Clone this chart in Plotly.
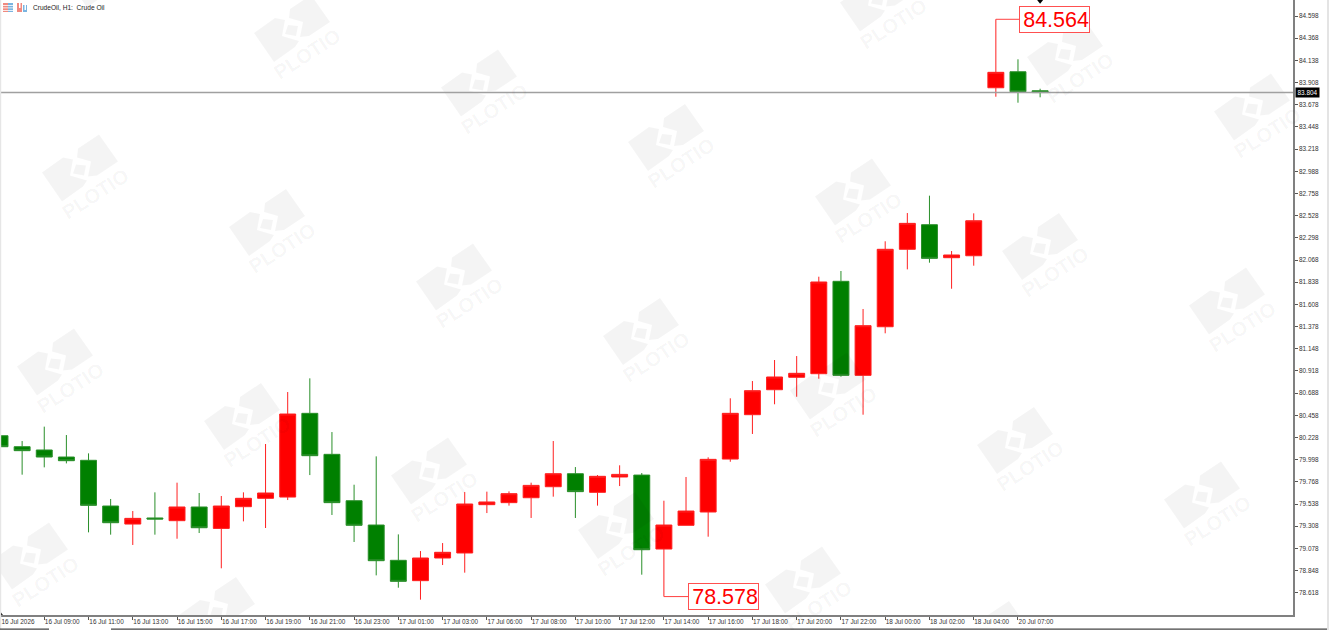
import plotly.graph_objects as go

bars = list(range(48))
opens = [80.246,80.132,80.098,80.025,79.991,79.517,79.330,79.393,79.365,79.507,79.285,79.510,
         79.597,79.610,80.478,80.053,79.572,79.320,78.954,78.743,78.978,79.030,79.531,79.552,
         79.603,79.717,79.852,79.659,79.818,79.838,79.071,79.317,79.455,80.004,80.464,80.723,
         80.852,80.889,81.847,80.872,81.376,82.179,82.434,82.092,82.112,83.854,84.020,83.823]
highs = [80.246,80.191,80.340,80.253,80.063,79.590,79.465,79.659,79.759,79.652,79.621,79.659,
         80.160,80.699,80.841,80.284,79.738,80.032,79.223,79.050,79.133,79.662,79.666,79.669,
         79.759,80.191,79.921,79.838,79.939,79.859,79.572,79.818,80.022,80.634,80.813,81.031,
         81.072,81.895,81.954,81.560,82.262,82.555,82.735,82.161,82.552,84.564,84.149,83.844]
lows = [80.132,79.842,79.918,79.959,79.244,79.220,79.113,79.220,79.178,79.237,78.871,79.358,
        79.289,79.579,79.838,79.424,79.144,78.798,78.670,78.546,78.905,78.826,79.444,79.521,
        79.393,79.614,79.393,79.521,79.724,78.805,78.578,79.317,79.199,79.976,80.264,80.572,
        80.650,80.837,80.858,80.464,81.308,81.971,82.040,81.770,82.009,83.761,83.699,83.755]
closes = [80.132,80.091,80.025,79.987,79.524,79.344,79.389,79.382,79.507,79.292,79.517,79.597,
          79.652,80.471,80.039,79.552,79.317,78.950,78.736,78.978,79.037,79.538,79.559,79.645,
          79.731,79.852,79.666,79.825,79.845,79.064,79.320,79.465,80.001,80.478,80.713,80.855,
          80.893,81.840,80.872,81.387,82.179,82.448,82.085,82.120,82.475,84.014,83.813,83.804]

x_tick_bars = list(range(0, 48, 2))
x_tick_labels = ["16 Jul 2026","16 Jul 09:00","16 Jul 11:00","16 Jul 13:00","16 Jul 15:00","16 Jul 17:00",
                 "16 Jul 19:00","16 Jul 21:00","16 Jul 23:00","17 Jul 01:00","17 Jul 03:00","17 Jul 06:00",
                 "17 Jul 08:00","17 Jul 10:00","17 Jul 12:00","17 Jul 14:00","17 Jul 16:00","17 Jul 18:00",
                 "17 Jul 20:00","17 Jul 22:00","18 Jul 00:00","18 Jul 02:00","18 Jul 04:00","20 Jul 07:00"]
y_ticks = [84.598,84.368,84.138,83.908,83.678,83.448,83.218,82.988,82.758,82.528,82.298,82.068,81.838,
           81.608,81.378,81.148,80.918,80.688,80.458,80.228,79.998,79.768,79.538,79.308,79.078,78.848,78.618]
current_price = 83.804
high_label = 84.564
low_label = 78.578
title_text = "CrudeOil, H1:  Crude Oil"
watermark_text = "PLOTIO"

W, H = 1329, 630
PW, PH = 1293, 615
BAR_PX = 22.13
XR = [0, PW / BAR_PX]
YR = [78.387, 84.764]
UNIT = "Liberation Sans"
GREY = "#808080"

def dx(px): return px / BAR_PX
def dy(py): return YR[1] - py * (YR[1] - YR[0]) / PH
def fx(px): return px / PW
def fy(py): return 1 - py / PH

# watermark outline, pixels relative to an anchor
lobes = [
    [(-38,4),(-17,-11),(-7,-9),(-10,7),(7,12),(3,18),(-18,33)],
    [(-2,-20),(19,-34),(38,-7),(17,7),(8,8),(11,-7),(-3,-11)],
    [(-4,-4),(6,-3),(4,7),(-7,5)],
]
anchors = []
for i in range(-2, 8):
    for j in range(-1, 4):
        ax_, ay_ = 292 + i * 187 - j * 25, 29 + i * 54.5 + j * 194
        if -60 < ax_ < 1340 and -50 < ay_ < 660:
            anchors.append((ax_, ay_))

shapes, annotations = [], []
for ax_, ay_ in anchors:
    for lobe in lobes:
        path = "M " + " L ".join(f"{dx(ax_+a):.4f},{dy(ay_+b):.4f}" for a, b in lobe) + " Z"
        shapes.append(dict(type="path", path=path, xref="x", yref="y", layer="above",
                           fillcolor="rgba(0,0,0,0.042)", line=dict(width=0)))
    tx, ty = ax_ + 15, ay_ + 25
    if -30 < tx < 1300 and -5 < ty < 612:
        annotations.append(dict(x=dx(tx), y=dy(ty), xref="x", yref="y", text=f"<b>{watermark_text}</b>",
                                showarrow=False, textangle=-33,
                                font=dict(family=UNIT, size=20, color="rgba(0,0,0,0.042)")))

shapes.append(dict(type="line", xref="paper", x0=0, x1=1, yref="y", y0=current_price, y1=current_price,
                   layer="above", line=dict(color="#a0a0a0", width=1.5)))

def rect(x0, y0, x1, y1, color):
    shapes.append(dict(type="rect", xref="paper", yref="paper", x0=fx(x0), x1=fx(x1), y0=fy(y0), y1=fy(y1),
                       fillcolor=color, line=dict(width=0), layer="above"))

# window furniture
rect(0, 0, 1.2, 629, "#e6e6e6")
rect(1327, 0, 1329, 630, "#e4e4e4")
rect(0, 628.6, 49, 629.8, "#444444")
rect(111, 628.6, 1327, 629.8, "#444444")
# header icons
rect(3, 3, 8, 12, "#f08a80"); rect(8, 3, 13, 12, "#7ab4e0")
for yy in (5, 7.5, 10):
    rect(3, yy, 13, yy + 0.8, "#ffffff")
rect(17, 3, 22, 12, "#f08a80"); rect(23, 5, 27, 12, "#7ab4e0")
rect(19, 3, 20.5, 8, "#ffffff"); rect(24.5, 5, 26, 10, "#ffffff")

annotations += [
    dict(xref="paper", yref="paper", x=fx(30.5), y=fy(7.5), xanchor="left", yanchor="middle", text=title_text,
         showarrow=False, font=dict(family=UNIT, size=6.6, color="#222222")),
    dict(xref="paper", yref="y", x=fx(1295), y=current_price, xanchor="left", yanchor="middle",
         text=f"{current_price:.3f}", showarrow=False, bgcolor="#000000", borderpad=0.5,
         width=22, height=8, font=dict(family=UNIT, size=6.4, color="#ffffff")),
]
for bar, val, offset in ((45, high_label, 58.5), (30, low_label, 59.5)):
    annotations.append(dict(x=bar, y=val, xref="x", yref="y", ax=offset, ay=0, text=f"{val:.3f}", showarrow=True,
                            arrowhead=0, arrowwidth=1, arrowcolor="#ff4040", bordercolor="#ff5050", borderwidth=1,
                            borderpad=0, width=69, height=25, align="right", bgcolor="rgba(255,255,255,0.9)",
                            font=dict(family=UNIT, size=21.5, color="#ff0000")))

fig = go.Figure()
fig.add_trace(go.Candlestick(
    x=bars, open=opens, high=highs, low=lows, close=closes, whiskerwidth=0,
    increasing=dict(line=dict(color="#ff2020", width=1), fillcolor="#ff0000"),
    decreasing=dict(line=dict(color="#2a8f2a", width=1), fillcolor="#008000"),
    hoverinfo="skip", showlegend=False))
fig.add_trace(go.Scatter(x=[47, 0], y=[84.755, 78.395], mode="markers", showlegend=False, hoverinfo="skip",
                         marker=dict(symbol=["triangle-down", "triangle-up"], size=6, color="#000000")))

fig.update_layout(
    width=W, height=H, margin=dict(l=0, r=W - PW, t=0, b=H - PH, pad=0),
    paper_bgcolor="#ffffff", plot_bgcolor="#ffffff", showlegend=False,
    boxgap=0.1, boxgroupgap=0.2, shapes=shapes, annotations=annotations,
    font=dict(family=UNIT, size=6.4, color="#333333"),
    xaxis=dict(range=XR, rangeslider=dict(visible=False), tickmode="array", tickvals=x_tick_bars,
               ticktext=x_tick_labels, ticks="outside", ticklen=3, tickwidth=1, tickcolor="#555555",
               tickangle=0, tickfont=dict(family=UNIT, size=6.4, color="#333333"), ticklabelshift=18,
               ticklabelstandoff=-3,
               showline=True, linecolor=GREY, linewidth=1.5, showgrid=False, zeroline=False),
    yaxis=dict(range=YR, side="right", tickmode="array", tickvals=y_ticks,
               ticktext=[f"{t:.3f}" for t in y_ticks], ticks="outside", ticklen=3, tickwidth=1,
               tickcolor="#555555", tickfont=dict(family=UNIT, size=6.4, color="#333333"),
               showline=True, linecolor=GREY, linewidth=1.5, showgrid=False, zeroline=False),
)
fig.write_html("out.html", config={"displayModeBar": False},
               post_script="document.body.style.margin='0';document.body.style.overflow='hidden';")
